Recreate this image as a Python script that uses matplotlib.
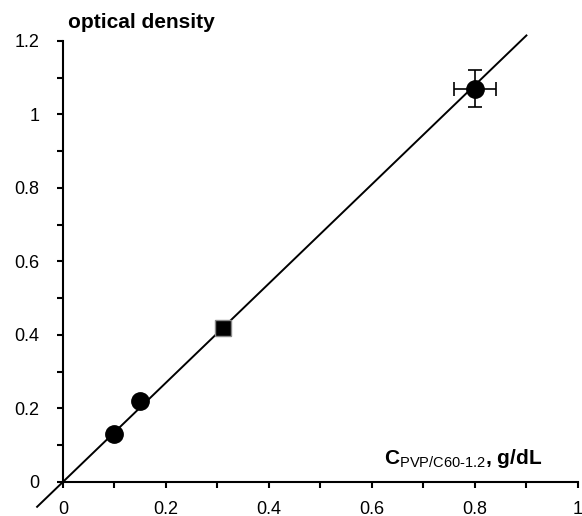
import matplotlib.pyplot as plt
import numpy as np
from matplotlib.ticker import MultipleLocator

plt.rcParams['font.family'] = ['Liberation Sans', 'DejaVu Sans']
plt.rcParams['mathtext.fontset'] = 'custom'
plt.rcParams['mathtext.rm'] = 'Liberation Sans'
plt.rcParams['mathtext.bf'] = 'Liberation Sans:bold'

### data
conc = [0.10, 0.15, 0.80]
density = [0.13, 0.22, 1.07]
sq_conc = [0.31]
sq_density = [0.42]
err_x = [0.04]
err_y = [0.05]
hi_conc = [0.80]
hi_density = [1.07]

### linear fit through origin
slope = 1.35
fit_x = np.array([-0.05, 0.90])
fit_y = slope * fit_x

fig = plt.figure(figsize=(5.82, 5.16), dpi=100)
ax = fig.add_axes([0.108, 0.0659, 0.885, 0.8547])

ax.plot(fit_x, fit_y, color='black', lw=1.4, clip_on=False, zorder=2)
ax.errorbar(hi_conc, hi_density, xerr=err_x, yerr=err_y, fmt='none',
            ecolor='black', elinewidth=1.2, capsize=5, capthick=1.2, zorder=3)
ax.plot(conc, density, 'o', color='black', ms=12.5, zorder=4)
ax.plot(sq_conc, sq_density, 's', color='black', mec='#888888', mew=1, ms=12, zorder=4)

ax.set_xlim(0, 1)
ax.set_ylim(0, 1.2)
ax.xaxis.set_minor_locator(MultipleLocator(0.1))
ax.yaxis.set_minor_locator(MultipleLocator(0.1))
ax.set_xticks([0, 0.2, 0.4, 0.6, 0.8, 1.0], ['0', '0.2', '0.4', '0.6', '0.8', '1'])
ax.set_yticks([0, 0.2, 0.4, 0.6, 0.8, 1.0, 1.2], ['0', '0.2', '0.4', '0.6', '0.8', '1', '1.2'])

for s in ['top', 'right']:
    ax.spines[s].set_visible(False)
for s in ['left', 'bottom']:
    ax.spines[s].set_linewidth(1.5)
ax.tick_params(which='both', direction='out', length=4, width=1.5, labelsize=13)
ax.tick_params(axis='x', pad=10)
ax.tick_params(axis='y', pad=13)

fig.text(68 / 582, 1 - 22 / 516, 'optical density', fontsize=15, fontweight='bold',
         ha='left', va='center')
fig.text(542 / 582, 1 - 458 / 516,
         r'$\mathbf{C}_{\mathrm{PVP/C60\text{-}1.2}}$, g/dL',
         fontsize=15, fontweight='bold', ha='right', va='center')

fig.savefig('out.png', dpi=100)
